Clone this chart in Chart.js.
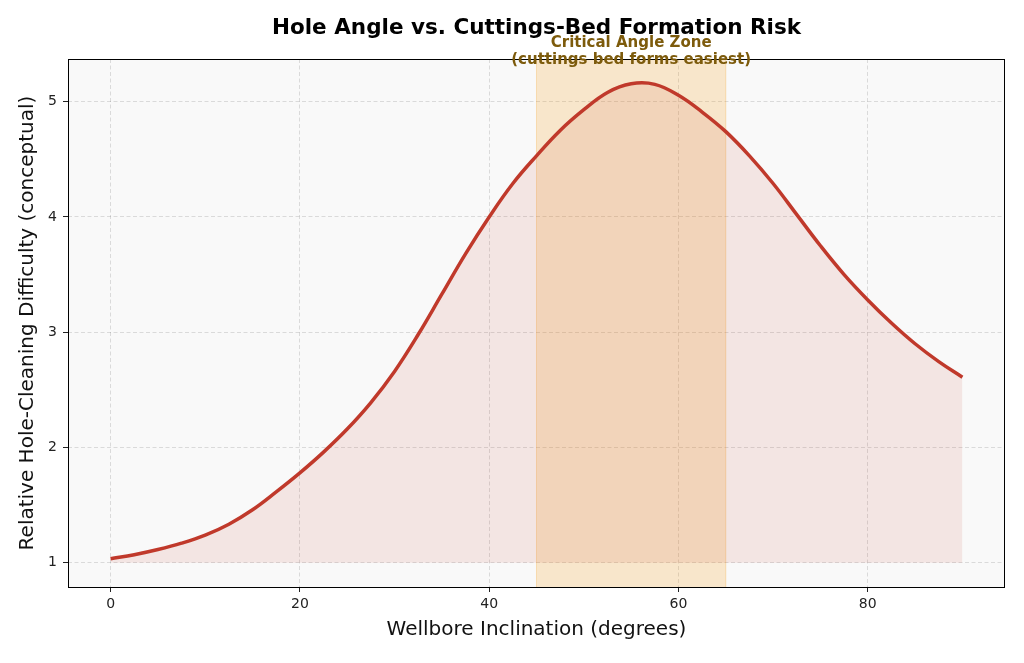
<!DOCTYPE html>
<html>
<head>
<meta charset="utf-8">
<script src="https://cdn.jsdelivr.net/npm/chart.js@4/dist/chart.umd.min.js"></script>
<style>
  html, body { margin: 0; padding: 0; background: #fff; }
  canvas { display: block; }
</style>
</head>
<body>
<canvas id="riskChart" width="1024" height="663"></canvas>
<script>
// inclination (deg) and difficulty
var angles = [0, 2.5, 5, 7.5, 10, 12.5, 15, 17.5, 20, 22.5, 25, 27.5, 30, 32.5, 35, 37.5, 40, 42.5, 45,
              47.5, 50, 52.5, 55, 57.5, 60, 62.5, 65, 67.5, 70, 72.5, 75, 77.5, 80, 82.5, 85, 87.5, 90];
var difficulty = [1.035, 1.07, 1.115, 1.17, 1.24, 1.335, 1.46, 1.615, 1.78, 1.96, 2.16, 2.39, 2.66, 2.98, 3.33, 3.68, 4.0, 4.29, 4.53,
                  4.75, 4.93, 5.08, 5.155, 5.15, 5.055, 4.91, 4.74, 4.53, 4.29, 4.02, 3.75, 3.50, 3.28, 3.08, 2.90, 2.745, 2.61];
var xTicks = [0, 20, 40, 60, 80];
var yTicks = [1, 2, 3, 4, 5];
var zoneStart = 45, zoneEnd = 65;
var zoneLabel = ['Critical Angle Zone', '(cuttings bed forms easiest)'];

var points = angles.map(function(a, i) { return { x: a, y: difficulty[i] }; });

var frame = {
    id: 'frame',
    beforeDraw: function(chart) {
        var c = chart.ctx, a = chart.chartArea;
        c.save();
        c.fillStyle = '#f9f9f9';
        c.fillRect(a.left, a.top, a.right - a.left, a.bottom - a.top);
        c.restore();
    },
    beforeDatasetsDraw: function(chart) {
        var c = chart.ctx, a = chart.chartArea, xs = chart.scales.x;
        var x0 = xs.getPixelForValue(zoneStart), x1 = xs.getPixelForValue(zoneEnd);
        c.save();
        c.fillStyle = 'rgba(243, 156, 18, 0.2)';
        c.fillRect(x0, a.top, x1 - x0, a.bottom - a.top);
        c.strokeStyle = 'rgba(243, 156, 18, 0.25)';
        c.lineWidth = 1;
        c.beginPath();
        c.moveTo(x0, a.top); c.lineTo(x0, a.bottom);
        c.moveTo(x1, a.top); c.lineTo(x1, a.bottom);
        c.stroke();
        c.restore();
    },
    afterDraw: function(chart) {
        var c = chart.ctx, a = chart.chartArea, xs = chart.scales.x;
        c.save();
        c.strokeStyle = '#000';
        c.lineWidth = 1;
        c.strokeRect(a.left + 0.5, a.top + 0.5, a.right - a.left - 1, a.bottom - a.top);
        c.textAlign = 'center';
        c.textBaseline = 'middle';
        c.fillStyle = '#000';
        c.font = 'bold 21.5px "DejaVu Sans"';
        c.fillText('Hole Angle vs. Cuttings-Bed Formation Risk', (a.left + a.right) / 2, 28);
        c.fillStyle = '#7d5b0c';
        c.font = 'bold 15px "DejaVu Sans"';
        var zx = xs.getPixelForValue((zoneStart + zoneEnd) / 2);
        c.fillText(zoneLabel[0], zx, 43);
        c.fillText(zoneLabel[1], zx, 60);
        c.restore();
    }
};

var ctx = document.getElementById('riskChart').getContext('2d');
var riskChart = new Chart(ctx, {
    type: 'line',
    data: {
        datasets: [{
            data: points,
            borderColor: '#c0392b',
            borderWidth: 3.5,
            backgroundColor: 'rgba(192, 57, 43, 0.1)',
            fill: { value: 1 },
            pointRadius: 0,
            tension: 0.4
        }]
    },
    options: {
        responsive: false,
        devicePixelRatio: 1,
        animation: false,
        layout: { padding: { top: 59, right: 19, left: 0, bottom: 0 } },
        plugins: {
            legend: { display: false },
            tooltip: { enabled: false }
        },
        scales: {
            x: {
                type: 'linear',
                min: -4.5,
                max: 94.5,
                afterBuildTicks: function(axis) {
                    axis.ticks = xTicks.map(function(v) { return { value: v }; });
                },
                afterFit: function(axis) { axis.height = 76; },
                grid: {
                    color: 'rgba(0, 0, 0, 0.12)',
                    tickColor: '#222',
                    tickLength: 5,
                    tickBorderDash: []
                },
                border: { display: false, dash: [4, 2.5] },
                ticks: {
                    color: '#222',
                    font: { family: 'DejaVu Sans', size: 14 },
                    padding: 4,
                    maxRotation: 0
                },
                title: {
                    display: true,
                    text: 'Wellbore Inclination (degrees)',
                    color: '#111',
                    font: { family: 'DejaVu Sans', size: 20 },
                    padding: { top: 4, bottom: 21 }
                }
            },
            y: {
                type: 'linear',
                min: 0.79,
                max: 5.37,
                afterBuildTicks: function(axis) {
                    axis.ticks = yTicks.map(function(v) { return { value: v }; });
                },
                afterFit: function(axis) { axis.width = 68; },
                grid: {
                    color: 'rgba(0, 0, 0, 0.12)',
                    tickColor: '#222',
                    tickLength: 5,
                    tickBorderDash: []
                },
                border: { display: false, dash: [4, 2.5] },
                ticks: {
                    color: '#222',
                    font: { family: 'DejaVu Sans', size: 14 },
                    padding: 6
                },
                title: {
                    display: true,
                    text: 'Relative Hole-Cleaning Difficulty (conceptual)',
                    color: '#111',
                    font: { family: 'DejaVu Sans', size: 20 },
                    padding: { top: 16, bottom: 16 }
                }
            }
        }
    },
    plugins: [frame]
});
</script>
</body>
</html>
